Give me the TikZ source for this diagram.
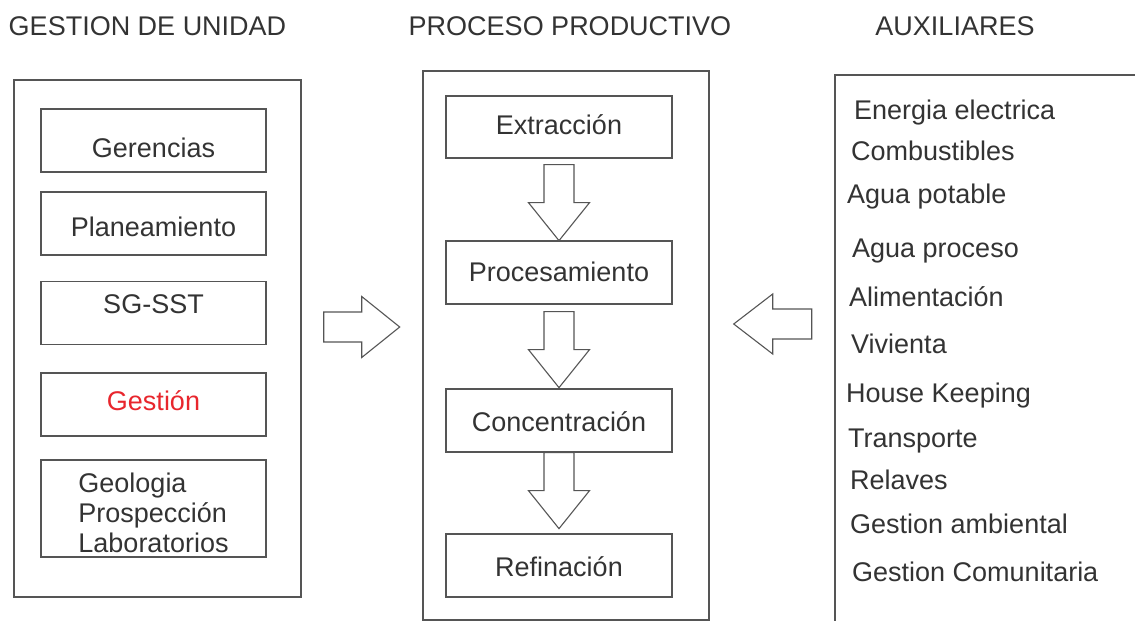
\documentclass[tikz,border=0pt]{standalone}
\usepackage{fontspec}
\setmainfont{Liberation Sans}
\usetikzlibrary{positioning,calc}

\definecolor{txtgray}{HTML}{333333}
\definecolor{linegray}{HTML}{555555}
\definecolor{gestred}{HTML}{E8262D}

\begin{document}
\begin{tikzpicture}[x=1pt, y=-1pt,
    frame/.style={draw=linegray, line width=1.4pt, inner sep=0pt},
    box/.style={draw=linegray, line width=1.3pt, minimum width=225pt, minimum height=63pt, inner sep=0pt, text=txtgray, font=\fontsize{27}{30}\selectfont},
    vpos/.style={text height=#1pt, text depth=0pt},
    item/.style={anchor=base west, inner sep=0pt, text=txtgray, font=\fontsize{27}{30}\selectfont},
    title/.style={anchor=base, inner sep=0pt, text=txtgray, font=\fontsize{27}{30}\selectfont},
    blockarrow/.style={draw=linegray, line width=1.1pt, fill=white, line join=miter}]
    \useasboundingbox (0,0) rectangle (1135,621);

    % Titles
    \node[title] (tgest) at (147.5,35) {GESTION DE UNIDAD};
    \node[title] (tproc) at (570,35) {PROCESO PRODUCTIVO};
    \node[title] (taux) at (955,35) {AUXILIARES};

    % Frames
    \node[frame, minimum width=287pt, minimum height=517pt] (gestion) at (157.5,338.5) {};
    \node[frame, minimum width=286pt, minimum height=549pt] (proceso) at (566,345.5) {};
    \draw[frame] (1140,75) -- (835,75) -- (835,625);

    % Gestion de unidad
    \node[box, vpos=33.4] (ger) at (153.5,140.5) {Gerencias};
    \node[box, vpos=25.4] (pla) at (153.5,223.5) {Planeamiento};
    \node[box, vpos=1.4] (sgs) at (153.5,313) {SG-SST};
    \node[box, vpos=11.4, text=gestred] (ges) at (153.5,404.5) {Gestión};
    \node[box, vpos=87, minimum height=97pt, align=left] (geo) at (153.5,508.5) {Geologia\\Prospección\\Laboratorios};

    % Proceso productivo
    \node[box, minimum width=226pt, minimum height=62pt, vpos=14.4] (ext) at (559,127) {Extracción};
    \node[box, minimum width=226pt, vpos=18.4] (pro) at (559,272.5) {Procesamiento};
    \node[box, minimum width=226pt, vpos=21.4] (con) at (559,420.5) {Concentración};
    \node[box, minimum width=226pt, vpos=21.4] (ref) at (559,565.5) {Refinación};

    % Down arrows
    \foreach \a/\g in {ext/6, pro/7, con/0}
        \draw[blockarrow] ($(\a.south)+(-15,\g)$) -- ++(30,0) -- ++(0,38) -- ++(15.5,0)
            -- ++(-30.5,38) -- ++(-30.5,-38) -- ++(15.5,0) -- cycle;

    % Side arrows
    \coordinate (rtail) at ($(gestion.east)+(22,-11.5)$);
    \coordinate (ltip) at ($(proceso.east)+(24,-21.5)$);
    \draw[blockarrow] ($(rtail)+(0,-15)$) -- ++(38,0) -- ++(0,-15.5) -- ++(38,30.5)
        -- ++(-38,30.5) -- ++(0,-15.5) -- ++(-38,0) -- cycle;
    \draw[blockarrow] (ltip) -- ++(39,-30) -- ++(0,15) -- ++(39,0) -- ++(0,30)
        -- ++(-39,0) -- ++(0,15) -- cycle;

    % Auxiliares
    \foreach \t/\x/\y [count=\i] in {Energia electrica/854/119, Combustibles/851/160,
        Agua potable/847/203, Agua proceso/852/257, Alimentación/849/306,
        Vivienta/851/353, House Keeping/846/402, Transporte/848/447,
        Relaves/850/489, Gestion ambiental/850/533, Gestion Comunitaria/852/581}
        \node[item] (aux\i) at (\x,\y) {\t};
\end{tikzpicture}
\end{document}
